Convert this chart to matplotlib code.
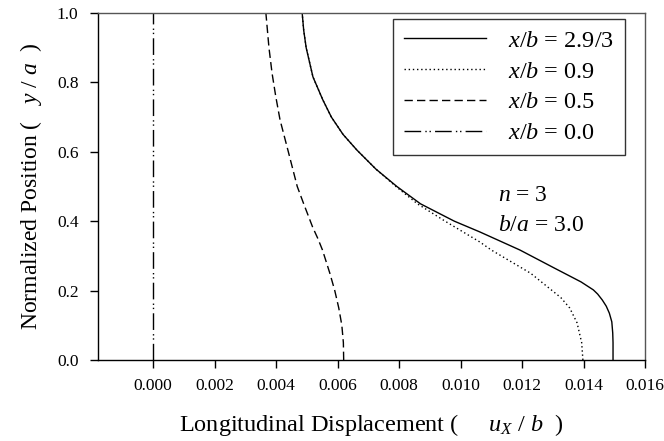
import matplotlib
matplotlib.use("Agg")
import matplotlib.pyplot as plt

plt.rcParams['font.family'] = ['Liberation Serif', 'DejaVu Serif']
plt.rcParams['mathtext.fontset'] = 'custom'
plt.rcParams['mathtext.rm'] = 'Liberation Serif'
plt.rcParams['mathtext.it'] = 'Liberation Serif:italic'

# Data: normalized position y/a vs longitudinal displacement u_x/b
y_solid = [0.0, 0.05, 0.078, 0.11, 0.135, 0.155, 0.173, 0.19, 0.202, 0.225, 0.265, 0.317, 0.369, 0.4, 0.45, 0.5, 0.55, 0.605, 0.65, 0.7, 0.75, 0.816, 0.9, 0.95, 1.0]
x_solid = [0.01496, 0.01496, 0.01495, 0.01492, 0.01484, 0.01474, 0.01461, 0.01446, 0.01432, 0.01392, 0.01305, 0.01193, 0.01063, 0.0098, 0.0087, 0.00793, 0.00725, 0.00663, 0.00618, 0.0058, 0.00552, 0.0052, 0.00498, 0.0049, 0.00485]

y_dot = [0.0, 0.05, 0.107, 0.15, 0.18, 0.25, 0.317, 0.34, 0.4, 0.45, 0.5, 0.55, 0.605, 0.65, 0.7, 0.75, 0.816, 0.9, 0.95, 1.0]
x_dot = [0.01398, 0.01394, 0.01379, 0.01355, 0.01326, 0.01228, 0.0110, 0.01063, 0.0095, 0.0086, 0.0079, 0.00725, 0.00663, 0.00618, 0.0058, 0.00552, 0.0052, 0.00498, 0.0049, 0.00485]

y_dash = [0.0, 0.05, 0.1, 0.15, 0.2, 0.25, 0.317, 0.35, 0.383, 0.45, 0.5, 0.6, 0.692, 0.76, 0.827, 0.9, 1.0]
x_dash = [0.00620, 0.00619, 0.00614, 0.00604, 0.00591, 0.00575, 0.00551, 0.00536, 0.00519, 0.0049, 0.00469, 0.0044, 0.00413, 0.00399, 0.00387, 0.00377, 0.00367]

y_zero = [0.0, 1.0]
x_zero = [0.0, 0.0]

labels = [r'$x/b$ = 2.9/3', r'$x/b$ = 0.9', r'$x/b$ = 0.5', r'$x/b$ = 0.0']
xticks = [0.000, 0.002, 0.004, 0.006, 0.008, 0.010, 0.012, 0.014, 0.016]
yticks = [0.0, 0.2, 0.4, 0.6, 0.8, 1.0]

fig = plt.figure(figsize=(6.64, 4.41), dpi=100)
ax = fig.add_axes([0.1476, 0.1837, 0.8238, 0.7868])

ax.plot(x_solid, y_solid, color='black', lw=1.0, ls='-', label=labels[0])
ax.plot(x_dot, y_dot, color='black', lw=1.0, ls=(0, (1, 2)), label=labels[1])
ax.plot(x_dash, y_dash, color='black', lw=1.0, ls=(0, (6, 3)), label=labels[2])
ax.plot(x_zero, y_zero, color='black', lw=1.0, ls=(0, (12, 3, 1, 2, 1, 3)), label=labels[3])

ax.set_xlim(-0.00179, 0.016)
ax.set_ylim(0.0, 1.0)
ax.set_xticks(xticks)
ax.set_xticklabels([f'{v:.3f}' for v in xticks])
ax.set_yticks(yticks)
ax.set_yticklabels([f'{v:.1f}' for v in yticks])
ax.tick_params(direction='out', length=6, width=1, labelsize=12.5, top=False, right=False, pad=8)
ax.tick_params(axis='x', pad=7)

for s in ['left', 'bottom']:
    ax.spines[s].set_color('black')
    ax.spines[s].set_linewidth(1.0)
for s in ['top', 'right']:
    ax.spines[s].set_color('#555555')
    ax.spines[s].set_linewidth(1.0)

ax.set_xlabel(r'Longitudinal Displacement (     $u_X$ / $b$  )', fontsize=17.5, labelpad=13)
ax.set_ylabel(r'Normalized Position (   $y$ / $a$  )', fontsize=17, labelpad=9)

leg = ax.legend(loc='upper right', bbox_to_anchor=(0.9634, 0.9827), borderaxespad=0,
                fontsize=17.5, frameon=True, fancybox=False, edgecolor='black',
                handlelength=3.4, handletextpad=0.9, labelspacing=0.36,
                borderpad=0.45)
leg.get_frame().set_linewidth(1.0)

ax.text(0.01122, 0.475, r'$n$ = 3', fontsize=17, va='center', ha='left')
ax.text(0.01122, 0.389, r'$b/a$ = 3.0', fontsize=17, va='center', ha='left')

fig.savefig('out.png', dpi=100)
